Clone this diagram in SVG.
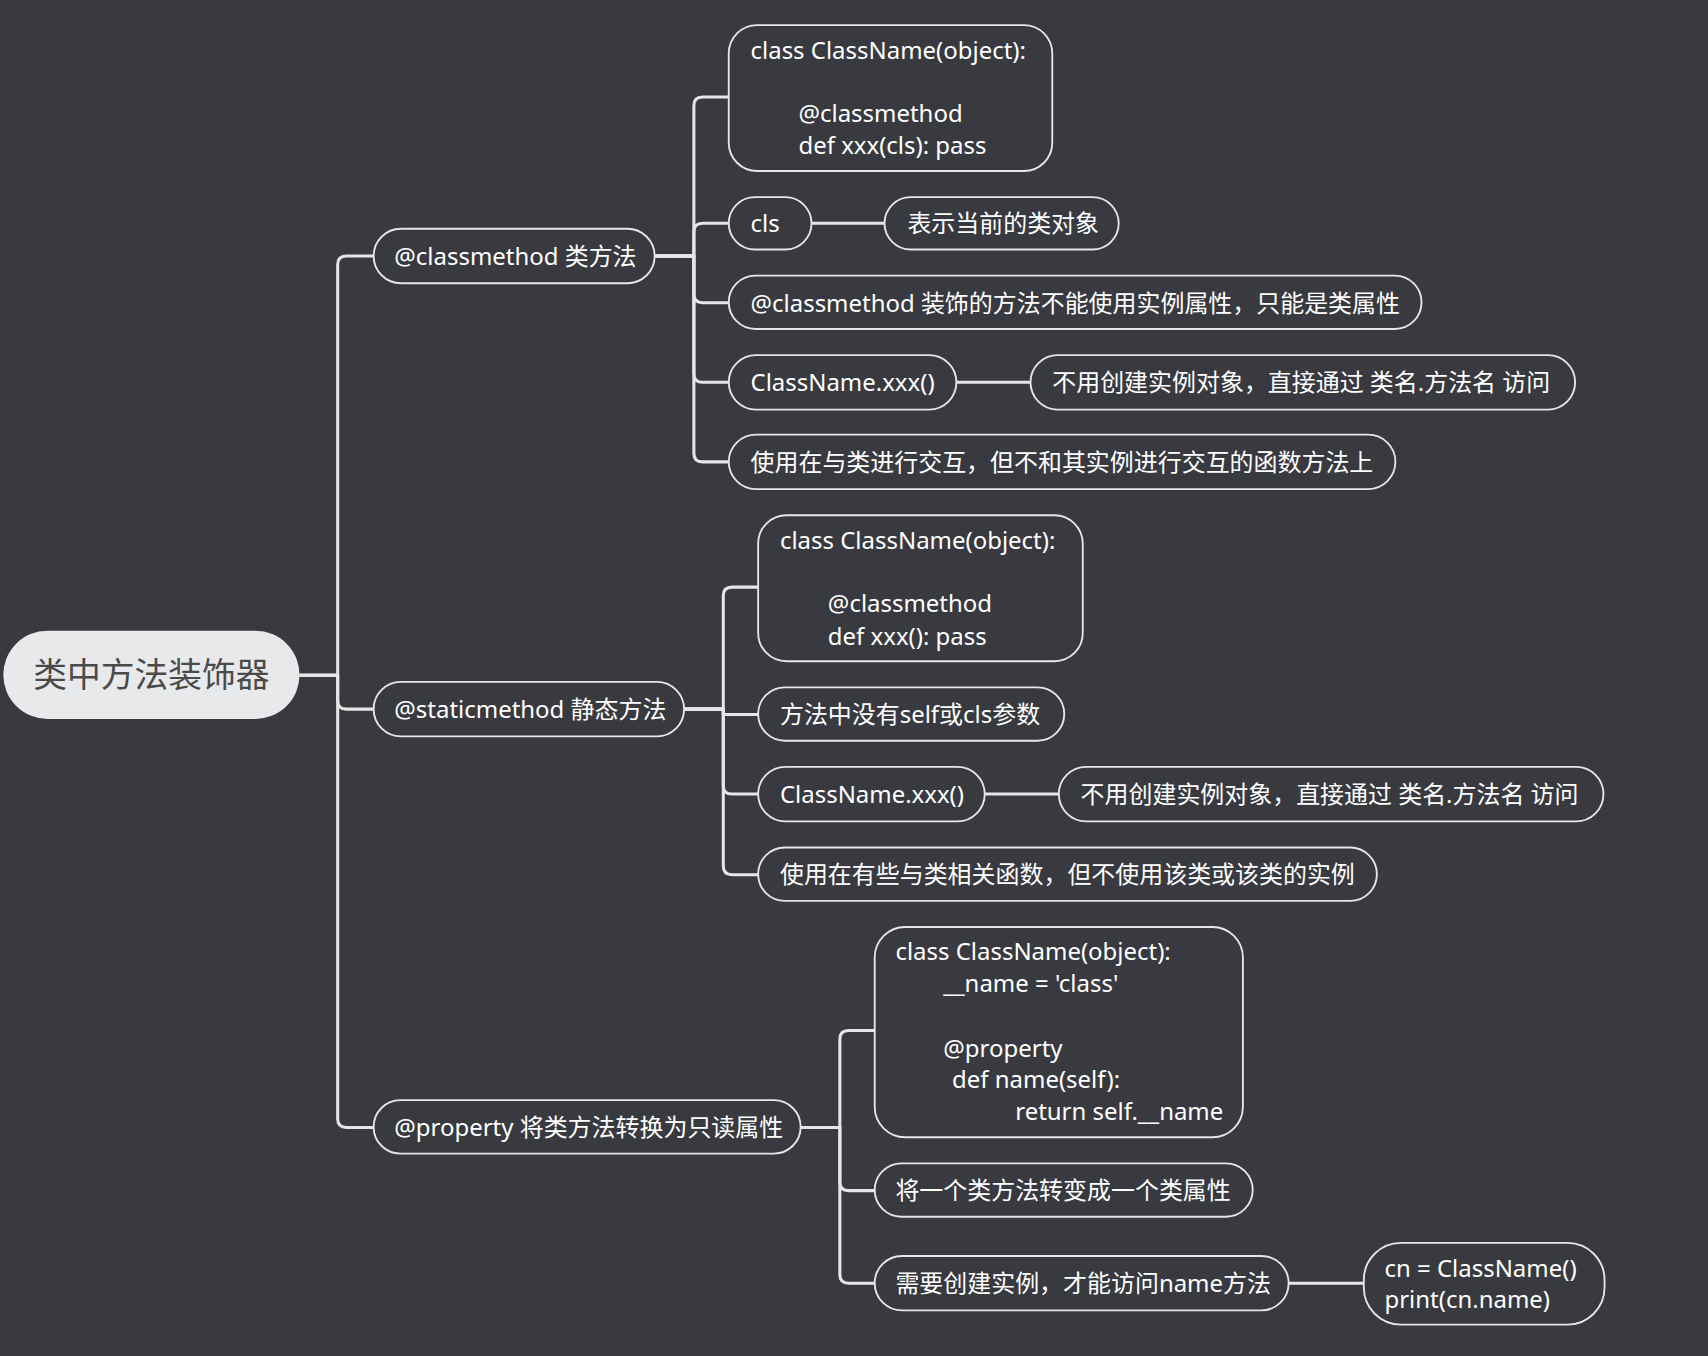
<svg xmlns="http://www.w3.org/2000/svg" width="1708" height="1356" viewBox="0 0 1708 1356">
<style>
.bg{fill:#383a3f}
.n{fill:#383a3f;stroke:#e6e6e6;stroke-width:1.7}
.t{font-family:"Noto Sans","Noto Sans CJK SC",sans-serif;font-size:22px;fill:#ffffff}
.c{fill:none;stroke:#e6e6e6;stroke-width:2.8;stroke-linejoin:round}
.root{fill:#e8e9eb}
.rt{font-family:"Noto Sans","Noto Sans CJK SC",sans-serif;font-size:31px;fill:#4a4a4a}
</style>
<rect class="bg" x="0" y="0" width="1708" height="1356"/>
<g transform="scale(1.0893)">
<g id="connectors">
<path class="c" d="M275,620 H310 V243 Q310,235 318,235 H343"/>
<path class="c" d="M275,620 H310 V643 Q310,651 318,651 H343"/>
<path class="c" d="M275,620 H310 V1027 Q310,1035 318,1035 H343"/>
<path class="c" d="M601,235 H637 V97 Q637,89 645,89 H669"/>
<path class="c" d="M601,235 H637 V213 Q637,205 645,205 H669"/>
<path class="c" d="M601,235 H637 V270 Q637,278 645,278 H669"/>
<path class="c" d="M601,235 H637 V343 Q637,351 645,351 H669"/>
<path class="c" d="M601,235 H637 V416 Q637,424 645,424 H669"/>
<path class="c" d="M745,205 H812"/>
<path class="c" d="M878,351 H946"/>
<path class="c" d="M628,651 H664 V547 Q664,539 672,539 H696"/>
<path class="c" d="M628,651 H664 V656 H696"/>
<path class="c" d="M628,651 H664 V721 Q664,729 672,729 H696"/>
<path class="c" d="M628,651 H664 V795 Q664,803 672,803 H696"/>
<path class="c" d="M904,729 H972"/>
<path class="c" d="M735,1035 H771 V954 Q771,946 779,946 H803"/>
<path class="c" d="M735,1035 H771 V1085 Q771,1093 779,1093 H803"/>
<path class="c" d="M735,1035 H771 V1170 Q771,1178 779,1178 H803"/>
<path class="c" d="M1183,1178 H1252"/>
</g>
<g id="root">
<rect class="root" x="3" y="579" width="272" height="81" rx="40.5"/>
<text class="rt" x="139" y="631" text-anchor="middle">类中方法装饰器</text>
</g>
<g id="classmethod">
<rect class="n" x="343" y="210" width="258" height="50" rx="25"/>
<text class="t" x="362" y="243">@classmethod 类方法</text>
</g>
<g id="cm-code">
<rect class="n" x="669" y="23" width="297" height="134" rx="26"/>
<text class="t" x="689" y="54">class ClassName(object):</text>
<text class="t" x="733" y="112">@classmethod</text>
<text class="t" x="733" y="141">def xxx(cls): pass</text>
</g>
<g id="cm-cls">
<rect class="n" x="669" y="181" width="76" height="48" rx="24"/>
<text class="t" x="689" y="213">cls</text>
</g>
<g id="cm-cls-desc">
<rect class="n" x="812" y="181" width="215" height="48" rx="24"/>
<text class="t" x="833" y="213">表示当前的类对象</text>
</g>
<g id="cm-noinst">
<rect class="n" x="669" y="253" width="636" height="49" rx="24.5"/>
<text class="t" x="689" y="286">@classmethod 装饰的方法不能使用实例属性，只能是类属性</text>
</g>
<g id="cm-call">
<rect class="n" x="669" y="326" width="209" height="50" rx="25"/>
<text class="t" x="689" y="359">ClassName.xxx()</text>
</g>
<g id="cm-call-desc">
<rect class="n" x="946" y="326" width="500" height="50" rx="25"/>
<text class="t" x="966" y="359">不用创建实例对象，直接通过 类名.方法名 访问</text>
</g>
<g id="cm-use">
<rect class="n" x="669" y="399" width="612" height="50" rx="25"/>
<text class="t" x="689" y="432">使用在与类进行交互，但不和其实例进行交互的函数方法上</text>
</g>
<g id="staticmethod">
<rect class="n" x="343" y="626" width="285" height="50" rx="25"/>
<text class="t" x="362" y="659">@staticmethod 静态方法</text>
</g>
<g id="sm-code">
<rect class="n" x="696" y="473" width="298" height="134" rx="26"/>
<text class="t" x="716" y="504">class ClassName(object):</text>
<text class="t" x="760" y="562">@classmethod</text>
<text class="t" x="760" y="592">def xxx(): pass</text>
</g>
<g id="sm-noself">
<rect class="n" x="696" y="631" width="281" height="49" rx="24.5"/>
<text class="t" x="716" y="664">方法中没有self或cls参数</text>
</g>
<g id="sm-call">
<rect class="n" x="696" y="704" width="208" height="50" rx="25"/>
<text class="t" x="716" y="737">ClassName.xxx()</text>
</g>
<g id="sm-call-desc">
<rect class="n" x="972" y="704" width="500" height="50" rx="25"/>
<text class="t" x="992" y="737">不用创建实例对象，直接通过 类名.方法名 访问</text>
</g>
<g id="sm-use">
<rect class="n" x="696" y="778" width="568" height="49" rx="24.5"/>
<text class="t" x="716" y="811">使用在有些与类相关函数，但不使用该类或该类的实例</text>
</g>
<g id="property">
<rect class="n" x="343" y="1010" width="392" height="49" rx="24.5"/>
<text class="t" x="362" y="1043">@property 将类方法转换为只读属性</text>
</g>
<g id="pr-code">
<rect class="n" x="803" y="851" width="338" height="193" rx="28"/>
<text class="t" x="822" y="881">class ClassName(object):</text>
<text class="t" x="866" y="911">__name = 'class'</text>
<text class="t" x="866" y="970">@property</text>
<text class="t" x="874" y="999">def name(self):</text>
<text class="t" x="932" y="1028">return self.__name</text>
</g>
<g id="pr-attr">
<rect class="n" x="803" y="1068" width="347" height="49" rx="24.5"/>
<text class="t" x="822" y="1101">将一个类方法转变成一个类属性</text>
</g>
<g id="pr-inst">
<rect class="n" x="803" y="1153" width="380" height="50" rx="25"/>
<text class="t" x="822" y="1186">需要创建实例，才能访问name方法</text>
</g>
<g id="pr-inst-code">
<rect class="n" x="1252" y="1141" width="221" height="75" rx="34"/>
<text class="t" x="1271" y="1172">cn = ClassName()</text>
<text class="t" x="1271" y="1201">print(cn.name)</text>
</g>
</g>
</svg>
